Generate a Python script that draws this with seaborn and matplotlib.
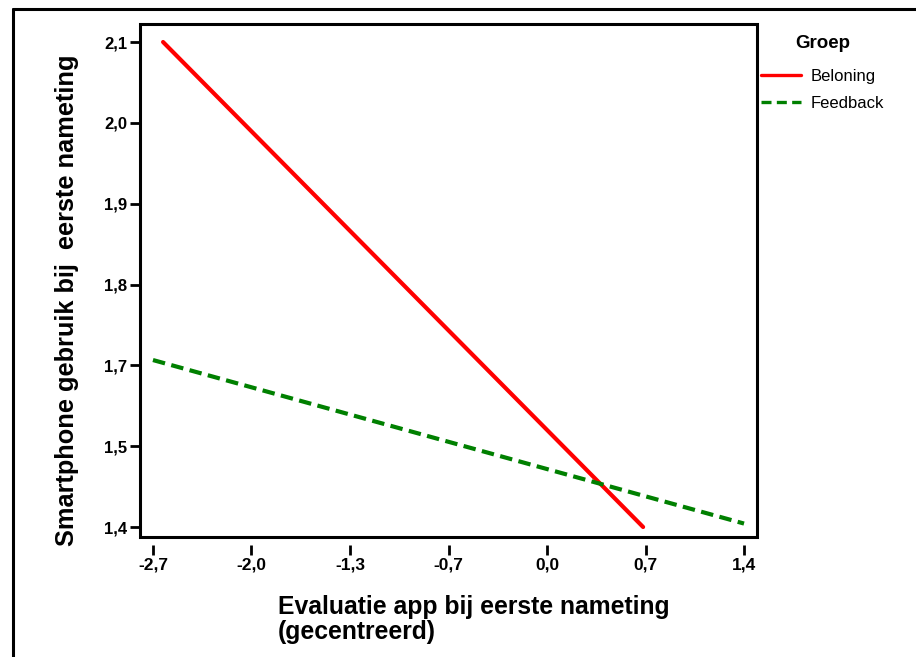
import matplotlib
matplotlib.use("Agg")
import matplotlib.pyplot as plt
from matplotlib.lines import Line2D
import seaborn as sns
import pandas as pd
import numpy as np

sns.set_style("white")
plt.rcParams["font.family"] = ["Liberation Sans", "DejaVu Sans"]
plt.rcParams["text.color"] = "black"
plt.rcParams["axes.labelcolor"] = "black"
plt.rcParams["xtick.color"] = "black"
plt.rcParams["ytick.color"] = "black"

# data
groepen = ["Beloning", "Feedback"]
beloning_x = [-2.63, 0.70]
beloning_y = [2.100, 1.400]
feedback_x = [-2.70, 1.40]
feedback_y = [1.641, 1.405]

x_ticklabels = ["-2,7", "-2,0", "-1,3", "-0,7", "0,0", "0,7", "1,4"]
y_ticklabels = ["1,4", "1,5", "1,7", "1,8", "1,9", "2,0", "2,1"]

df = pd.concat([
    pd.DataFrame({"x": beloning_x, "y": beloning_y, "Groep": "Beloning"}),
    pd.DataFrame({"x": feedback_x, "y": feedback_y, "Groep": "Feedback"}),
])

W, H = 916, 657
fig = plt.figure(figsize=(W / 100, H / 100), dpi=100)
ax = fig.add_axes([140 / W, 1 - 537 / H, 617 / W, 513 / H])

sns.lineplot(data=df, x="x", y="y", hue="Groep", style="Groep",
             hue_order=groepen, style_order=groepen,
             palette={"Beloning": "#ff0000", "Feedback": "#008000"},
             dashes={"Beloning": "", "Feedback": (3, 1.55)},
             linewidth=3, ax=ax, legend=False)

ax.set_xlim(-2.79, 1.49)
ax.set_ylim(1.3856, 2.126)
ax.set_xticks(np.linspace(-2.7, 1.4, 7))
ax.set_xticklabels(x_ticklabels)
ax.set_yticks(np.linspace(1.4, 2.1, 7))
ax.set_yticklabels(y_ticklabels)

for s in ax.spines.values():
    s.set_visible(False)
ax.spines["bottom"].set_position(("outward", 6))
ax.add_patch(plt.Rectangle((0, 0), 1, 1, transform=ax.transAxes, fill=False,
                           lw=2.2, ec="black", clip_on=False, zorder=5))

ax.tick_params(axis="both", direction="out", length=7, width=2, color="black",
               bottom=True, left=True, pad=2)
for lab in ax.get_xticklabels():
    lab.set_fontsize(12.5)
    lab.set_fontweight("bold")
for lab in ax.get_yticklabels():
    lab.set_fontsize(12)
    lab.set_fontweight("bold")

ax.set_xlabel("Evaluatie app bij eerste nameting\n(gecentreerd)", fontsize=17.8,
              fontweight="bold", ha="left", va="top", multialignment="left",
              linespacing=1.05)
ax.xaxis.set_label_coords((278 - 140) / 617, (537 - 595) / 513)
ax.set_ylabel("Smartphone gebruik bij  eerste nameting", fontsize=18.3,
              fontweight="bold", va="center")
ax.yaxis.set_label_coords((67 - 140) / 617, (537 - 300) / 513)

handles = [Line2D([], [], color="#ff0000", lw=2.4),
           Line2D([], [], color="#008000", lw=2.4, dashes=(3, 1.6))]
leg = ax.legend(handles, groepen, title="Groep", loc="upper left",
                bbox_to_anchor=(761 / W, 1 - 35 / H), bbox_transform=fig.transFigure,
                frameon=False, fontsize=12, handlelength=2.4, borderpad=0,
                borderaxespad=0, labelspacing=0.75, handletextpad=0.6,
                title_fontproperties={"weight": "bold", "size": 13.5})
leg._legend_box.sep = 12

# outer frame lines (top and left only)
fig.add_artist(Line2D([13 / W, 13 / W], [0, 1 - 9 / H], color="black", lw=2.2))
fig.add_artist(Line2D([13 / W, 1], [1 - 9 / H, 1 - 9 / H], color="black", lw=2.2))

fig.savefig("out.png", dpi=100)
